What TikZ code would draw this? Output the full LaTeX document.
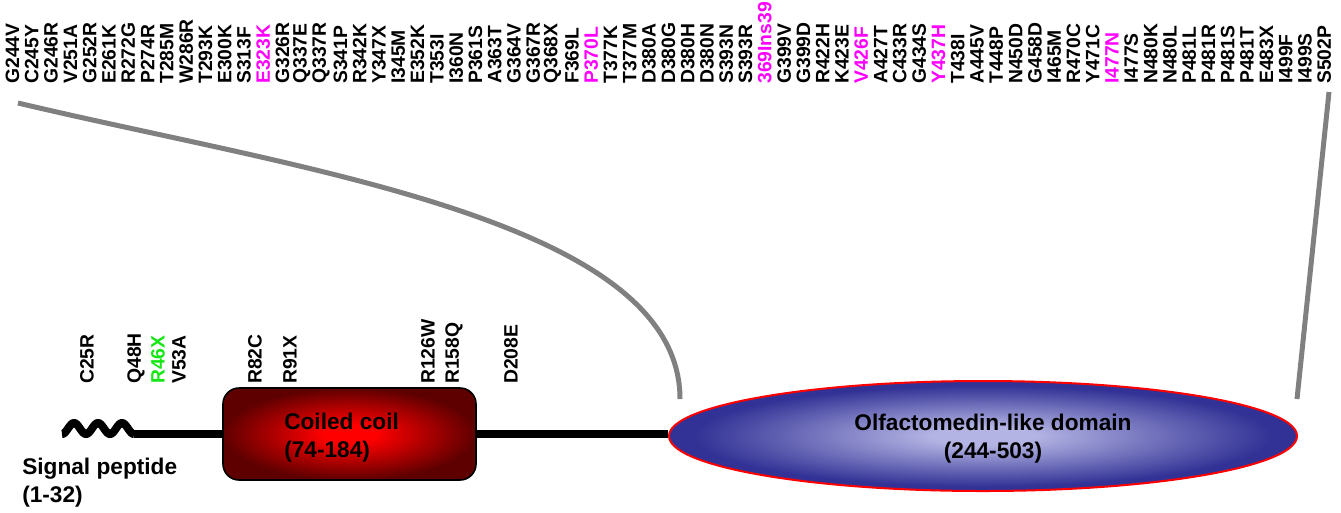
\documentclass[tikz,border=0pt]{standalone}
\usepackage{fontspec}
\setmainfont{Liberation Sans}
\usetikzlibrary{shapes.geometric}
\definecolor{mag}{RGB}{255,0,255}
\definecolor{grn}{RGB}{20,230,20}
\definecolor{lgrey}{RGB}{128,128,128}
\definecolor{lav}{RGB}{180,180,228}
\definecolor{dblue}{RGB}{50,50,150}
\definecolor{bred}{RGB}{255,0,0}
\definecolor{dred}{RGB}{95,0,0}
\pgfdeclareradialshading{olfshade}{\pgfpoint{0bp}{0bp}}{color(0bp)=(lav); color(4bp)=(lav); color(23bp)=(dblue); color(50bp)=(dblue)}
\pgfdeclareradialshading{ccshade}{\pgfpoint{0bp}{0bp}}{color(0bp)=(bred); color(5bp)=(bred); color(25bp)=(dred); color(50bp)=(dred)}
\begin{document}
\begin{tikzpicture}[x=0.75pt, y=-0.75pt,
  lbl/.style={font=\bfseries\fontsize{14.5}{16}\selectfont, rotate=90, anchor=west, inner sep=0pt},
  dtext/.style={font=\bfseries\fontsize{17}{20.3}\selectfont, inner sep=0pt},
  greyline/.style={draw=lgrey, line width=3.75pt},
  bb/.style={draw=black, line width=6pt},
  ccbox/.style={rectangle, rounded corners=12pt, draw=black, line width=1.2pt, shade, shading=ccshade, minimum width=189.75pt, minimum height=69pt, inner sep=0pt},
  olfell/.style={ellipse, draw=red, line width=1.5pt, shade, shading=olfshade, minimum width=471pt, minimum height=82.5pt, inner sep=0pt}]
\useasboundingbox (0,0) rectangle (1341,512);

% top mutation labels
\foreach \t/\c [count=\i from 0] in {G244V/black, C245Y/black, G246R/black, V251A/black, G252R/black, E261K/black, R272G/black, P274R/black, T285M/black, W286R/black, T293K/black, E300K/black, S313F/black, E323K/mag, G326R/black, Q337E/black, Q337R/black, S341P/black, R342K/black, Y347X/black, I345M/black, E352K/black, T353I/black, I360N/black, P361S/black, A363T/black, G364V/black, G367R/black, Q368X/black, F369L/black, P370L/mag, T377K/black, T377M/black, D380A/black, D380G/black, D380H/black, D380N/black, S393N/black, S393R/black, 369Ins39/mag, G399V/black, G399D/black, R422H/black, K423E/black, V426F/mag, A427T/black, C433R/black, G434S/black, Y437H/mag, T438I/black, A445V/black, T448P/black, N450D/black, G458D/black, I465M/black, R470C/black, Y471C/black, I477N/mag, I477S/black, N480K/black, N480L/black, P481L/black, P481R/black, P481S/black, P481T/black, E483X/black, I499F/black, I499S/black, S502P/black}
  \node[lbl, text=\c] (top\i) at ({12.5+19.29*\i}, 84) {\t};

% lower mutation labels
\foreach \t/\c/\x [count=\i] in {C25R/black/87, Q48H/black/136, R46X/grn/158, V53A/black/179, R82C/black/255, R91X/black/290, R126W/black/428, R158Q/black/454, D208E/black/511}
  \node[lbl, text=\c] (low\i) at (\x, 384) {\t};

% grey connectors
\coordinate (gl1) at (18,103);
\coordinate (gl2) at (680,399);
\coordinate (gr1) at (1329,92);
\coordinate (gr2) at (1297,399);
\draw[greyline] (gl1) .. controls (300,170) and (680,220) .. (gl2);
\draw[greyline] (gr1) -- (gr2);

% domains
\node[ccbox] (cc) at (349.5,434) {};
\node[olfell] (olf) at (983,436) {};

% backbone
\coordinate (sp0) at (62,434);
\coordinate (sp1) at (134,434);
\draw[bb] plot[domain=0:72, samples=120] ({62+\x}, {428.5+5.5*cos(15*\x)});
\draw[bb] (sp1) -- (cc.west);
\draw[bb] (cc.east) -- (cc.east -| olf.west);

% texts (base = baseline of last line)
\node[dtext, anchor=base west, align=left] (sptxt) at (22,502) {Signal peptide\\(1-32)};
\node[dtext, anchor=base west, align=left] (cctxt) at (284,457) {Coiled coil\\(74-184)};
\node[dtext, anchor=base, align=center] (olftxt) at (993,458) {Olfactomedin-like domain\\(244-503)};
\end{tikzpicture}
\end{document}
